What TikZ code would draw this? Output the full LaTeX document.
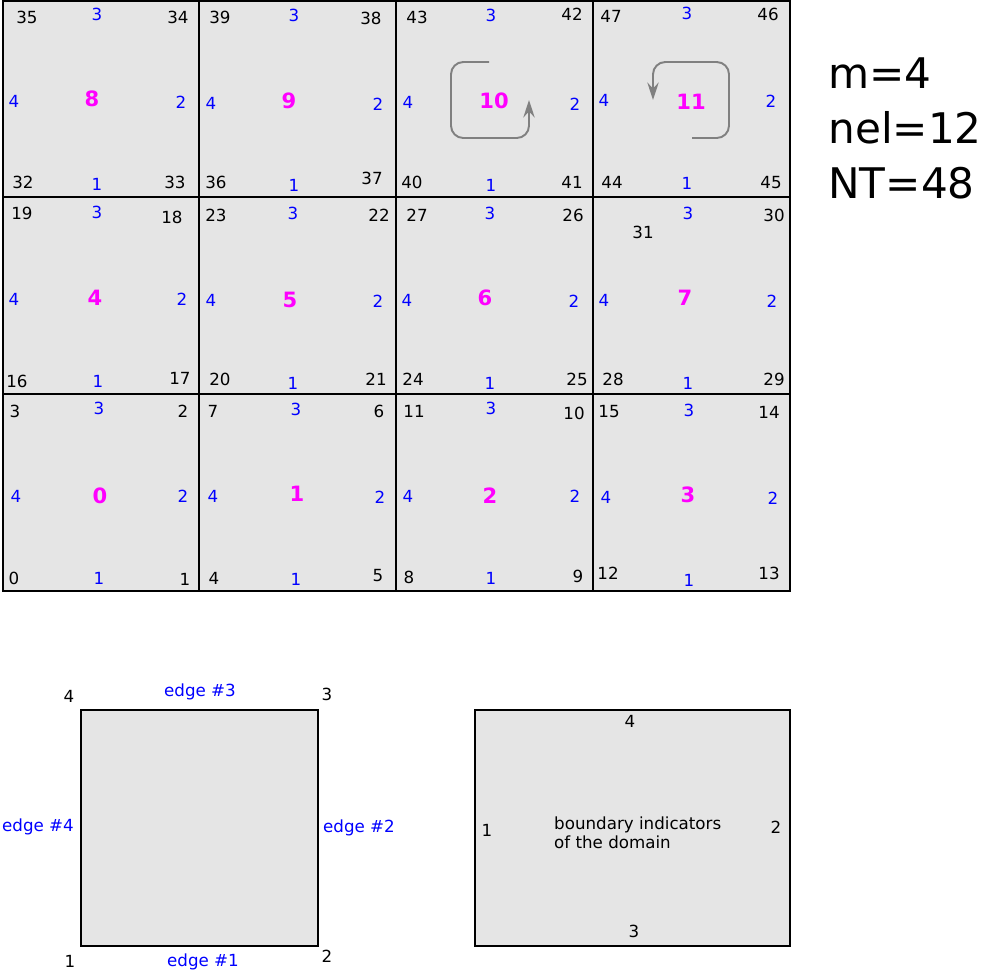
\documentclass[tikz,border=0pt]{standalone}
\usepackage{fontspec}
\setmainfont{DejaVu Sans}
\usepackage{xcolor}
\usepackage{tikz}
\usetikzlibrary{arrows.meta}
\definecolor{cellgray}{RGB}{229,229,229}
\definecolor{turngray}{RGB}{128,128,128}
\definecolor{elemmag}{RGB}{255,0,255}
\definecolor{sideblue}{RGB}{0,0,255}

\begin{document}
\begin{tikzpicture}[x=0.02cm,y=-0.02cm,
		vert/.style={font=\fontsize{9.5}{11}\selectfont},
		side/.style={text=sideblue,font=\fontsize{9.5}{11}\selectfont},
		elem/.style={text=elemmag,font=\fontsize{12}{14}\selectfont\bfseries},
		frame/.style={draw=black,line width=1.1pt,fill=cellgray},
		turn/.style={draw=turngray,line width=1.1pt,rounded corners=7pt,
			-{Stealth[length=10pt,width=6.5pt,inset=3.5pt]}},
		big/.style={anchor=west,inner sep=0pt,font=\fontsize{24}{29}\selectfont}]
				\useasboundingbox (0,0) rectangle (984,971);

				\draw[frame] (3,1) rectangle (790,591);
				\draw[line width=1.1pt] (199,1) -- (199,591);
				\draw[line width=1.1pt] (396,1) -- (396,591);
				\draw[line width=1.1pt] (593,1) -- (593,591);
				\draw[line width=1.1pt] (3,197) -- (790,197);
				\draw[line width=1.1pt] (3,394) -- (790,394);

				\node[vert] (v0) at (14,578) {0};
				\node[vert] (v1) at (185,579) {1};
				\node[vert] (v2) at (183,411) {2};
				\node[vert] (v3) at (15,411) {3};
				\node[side] (s0a) at (99,578) {1};
				\node[side] (s0b) at (183,496) {2};
				\node[side] (s0c) at (99,408) {3};
				\node[side] (s0d) at (16,496) {4};
				\node[elem] (el0) at (100,496) {0};

				\node[vert] (v4) at (214,578) {4};
				\node[vert] (v5) at (378,576) {5};
				\node[vert] (v6) at (379,411) {6};
				\node[vert] (v7) at (213,411) {7};
				\node[side] (s1a) at (296,579) {1};
				\node[side] (s1b) at (380,497) {2};
				\node[side] (s1c) at (296,409) {3};
				\node[side] (s1d) at (213,496) {4};
				\node[elem] (el1) at (297,494) {1};

				\node[vert] (v8) at (409,577) {8};
				\node[vert] (v9) at (578,576) {9};
				\node[vert] (v10) at (574,413) {10};
				\node[vert] (v11) at (414,411) {11};
				\node[side] (s2a) at (491,578) {1};
				\node[side] (s2b) at (575,496) {2};
				\node[side] (s2c) at (491,408) {3};
				\node[side] (s2d) at (408,496) {4};
				\node[elem] (el2) at (490,496) {2};

				\node[vert] (v12) at (608,573) {12};
				\node[vert] (v13) at (769,573) {13};
				\node[vert] (v14) at (769,412) {14};
				\node[vert] (v15) at (609,412) {15};
				\node[side] (s3a) at (689,580) {1};
				\node[side] (s3b) at (773,498) {2};
				\node[side] (s3c) at (689,410) {3};
				\node[side] (s3d) at (606,497) {4};
				\node[elem] (el3) at (688,495) {3};

				\node[vert] (v16) at (17,381) {16};
				\node[vert] (v17) at (180,378) {17};
				\node[vert] (v18) at (172,217) {18};
				\node[vert] (v19) at (22,213) {19};
				\node[side] (s4a) at (98,381) {1};
				\node[side] (s4b) at (182,299) {2};
				\node[side] (s4c) at (97,212) {3};
				\node[side] (s4d) at (14,299) {4};
				\node[elem] (el4) at (95,298) {4};

				\node[vert] (v20) at (220,379) {20};
				\node[vert] (v21) at (376,379) {21};
				\node[vert] (v22) at (379,215) {22};
				\node[vert] (v23) at (216,215) {23};
				\node[side] (s5a) at (293,383) {1};
				\node[side] (s5b) at (378,301) {2};
				\node[side] (s5c) at (293,213) {3};
				\node[side] (s5d) at (211,300) {4};
				\node[elem] (el5) at (290,300) {5};

				\node[vert] (v24) at (413,379) {24};
				\node[vert] (v25) at (577,379) {25};
				\node[vert] (v26) at (573,215) {26};
				\node[vert] (v27) at (417,215) {27};
				\node[side] (s6a) at (490,383) {1};
				\node[side] (s6b) at (574,301) {2};
				\node[side] (s6c) at (490,213) {3};
				\node[side] (s6d) at (407,300) {4};
				\node[elem] (el6) at (485,298) {6};

				\node[vert] (v28) at (613,379) {28};
				\node[vert] (v29) at (774,379) {29};
				\node[vert] (v30) at (774,215) {30};
				\node[vert] (v31) at (643,232) {31};
				\node[side] (s7a) at (688,383) {1};
				\node[side] (s7b) at (772,301) {2};
				\node[side] (s7c) at (688,213) {3};
				\node[side] (s7d) at (604,300) {4};
				\node[elem] (el7) at (685,298) {7};

				\node[vert] (v32) at (23,182) {32};
				\node[vert] (v33) at (175,182) {33};
				\node[vert] (v34) at (178,17) {34};
				\node[vert] (v35) at (27,17) {35};
				\node[side] (s8a) at (97,184) {1};
				\node[side] (s8b) at (181,102) {2};
				\node[side] (s8c) at (97,14) {3};
				\node[side] (s8d) at (14,101) {4};
				\node[elem] (el8) at (92,99) {8};

				\node[vert] (v36) at (216,182) {36};
				\node[vert] (v37) at (372,178) {37};
				\node[vert] (v38) at (371,18) {38};
				\node[vert] (v39) at (220,17) {39};
				\node[side] (s9a) at (294,185) {1};
				\node[side] (s9b) at (378,104) {2};
				\node[side] (s9c) at (294,15) {3};
				\node[side] (s9d) at (211,103) {4};
				\node[elem] (el9) at (289,101) {9};

				\node[vert] (v40) at (412,182) {40};
				\node[vert] (v41) at (572,182) {41};
				\node[vert] (v42) at (572,14) {42};
				\node[vert] (v43) at (417,17) {43};
				\node[side] (s10a) at (491,185) {1};
				\node[side] (s10b) at (575,104) {2};
				\node[side] (s10c) at (491,15) {3};
				\node[side] (s10d) at (408,102) {4};
				\node[elem] (el10) at (494,101) {10};

				\node[vert] (v44) at (612,182) {44};
				\node[vert] (v45) at (771,183) {45};
				\node[vert] (v46) at (768,14) {46};
				\node[vert] (v47) at (611,16) {47};
				\node[side] (s11a) at (687,183) {1};
				\node[side] (s11b) at (771,101) {2};
				\node[side] (s11c) at (687,13) {3};
				\node[side] (s11d) at (604,100) {4};
				\node[elem] (el11) at (691,102) {11};

				\draw[turn] (489,62) -- (451,62) -- (451,138) -- (529,138) -- (529,100);
				\draw[turn] (692,138) -- (729,138) -- (729,62) -- (653,62) -- (653,100);

				\node[big] (mval) at (828,73) {m=4};
				\node[big] (nelval) at (828,128) {nel=12};
				\node[big] (ntval) at (828,183) {NT=48};

				\draw[frame] (81,710) rectangle (318,946);
				\node[vert] (c4) at (69,696) {4};
				\node[vert] (c3) at (327,694) {3};
				\node[vert] (c1) at (70,961) {1};
				\node[vert] (c2) at (327,956) {2};
				\node[side] (edge3) at (200,692) {edge \#3};
				\node[side] (edge1) at (203,962) {edge \#1};
				\node[side] (edge4) at (38,827) {edge \#4};
				\node[side] (edge2) at (359,828) {edge \#2};

				\draw[frame] (475,710) rectangle (790,946);
				\node[vert] (b4) at (630,721) {4};
				\node[vert] (b3) at (634,931) {3};
				\node[vert] (b1) at (487,830) {1};
				\node[vert] (b2) at (776,827) {2};
				\node[vert,anchor=west,align=left] (bnote) at (548,833)
					{boundary indicators\\of the domain};
\end{tikzpicture}
\end{document}
